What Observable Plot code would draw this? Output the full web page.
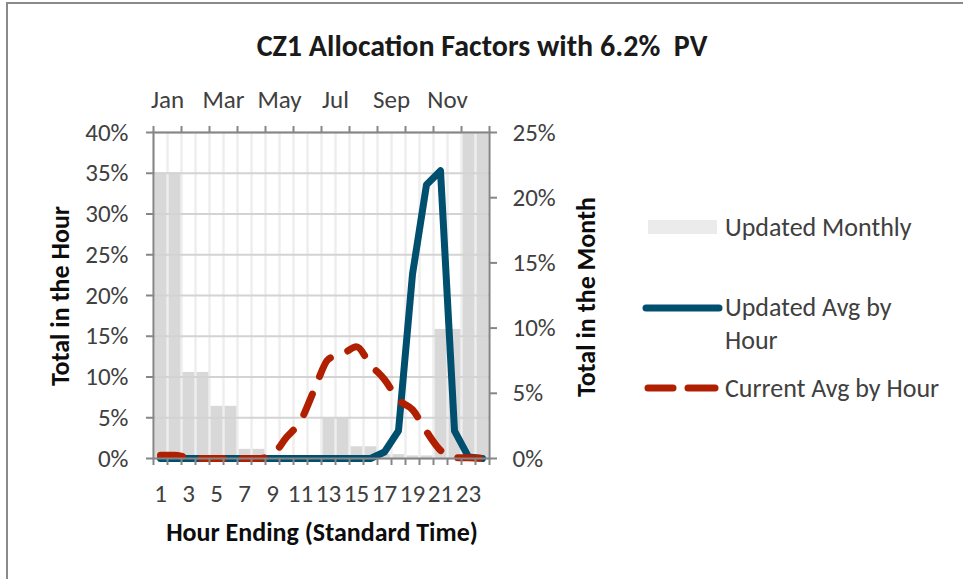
<!DOCTYPE html>
<html><head><meta charset="utf-8">
<script src="https://cdn.jsdelivr.net/npm/d3@7"></script>
<script src="https://cdn.jsdelivr.net/npm/@observablehq/plot@0.6"></script>
<style>
body{margin:0;background:#fff;}
#wrap{position:relative;width:963px;height:579px;overflow:hidden;font-family:Carlito,Calibri,Lato,sans-serif;color:#404040;}
#border{position:absolute;left:6px;top:2px;width:980px;height:600px;border-left:2px solid #8a8a8a;border-top:2px solid #8a8a8a;}
#chart{position:absolute;left:0;top:0;}
.abs{position:absolute;white-space:nowrap;}
.title{left:482px;top:45px;transform:translate(-50%,-50%);font-weight:bold;font-size:30px;color:#1a1a1a;}
.ytitle{font-weight:bold;font-size:26px;color:#0d0d0d;transform:translate(-50%,-50%) rotate(-90deg);}
.xtitle{left:322px;top:532px;transform:translate(-50%,-50%);font-weight:bold;font-size:26px;color:#0d0d0d;}
.leg{font-size:26px;transform:translateY(-50%);left:725px;}
</style></head><body>
<div id="wrap">
  <div id="border"></div>
  <div id="chart"></div>
  <div class="abs title">CZ1 Allocation Factors with 6.2%&nbsp; PV</div>
  <div class="abs ytitle" style="left:60px;top:296px;">Total in the Hour</div>
  <div class="abs ytitle" style="left:586px;top:297px;">Total in the Month</div>
  <div class="abs xtitle">Hour Ending (Standard Time)</div>
  <div class="abs" style="left:648px;top:220px;width:69px;height:14px;background:#ebebeb;"></div>
  <div class="abs leg" style="top:227px;">Updated Monthly</div>
  <svg class="abs" style="left:640px;top:298px;" width="85" height="20"><line x1="6" y1="10" x2="79" y2="10" stroke="#004f6e" stroke-width="7" stroke-linecap="round"/></svg>
  <div class="abs leg" style="top:307px;">Updated Avg by</div>
  <div class="abs leg" style="top:340px;">Hour</div>
  <svg class="abs" style="left:640px;top:378px;" width="85" height="20"><line x1="8" y1="10" x2="33" y2="10" stroke="#b02000" stroke-width="7" stroke-linecap="round"/><line x1="48" y1="10" x2="75" y2="10" stroke="#b02000" stroke-width="7" stroke-linecap="round"/></svg>
  <div class="abs leg" style="top:388px;">Current Avg by Hour</div>
</div>
<script>
// Monthly totals (right axis, % of year)
const months = ["Jan","Feb","Mar","Apr","May","Jun","Jul","Aug","Sep","Oct","Nov","Dec"];
const monthlyShare = [21.9, 6.6, 4.0, 0.7, 0.2, 0.1, 3.1, 0.9, 0.3, 0.2, 9.9, 52.1];
const monthLabels = ["Jan","Mar","May","Jul","Sep","Nov"];
// Hourly values (left axis, % of day)
const hours = [1,2,3,4,5,6,7,8,9,10,11,12,13,14,15,16,17,18,19,20,21,22,23,24];
const updatedAvg = [0,0,0,0,0,0,0,0,0,0,0,0,0,0,0,0,0.8,3.4,22.6,33.6,35.3,3.4,0.2,0];
const currentAvg = [0.4,0.4,0.1,0,0,0,0,0,0.5,2.6,4.6,8.5,12.2,12.8,13.7,11.5,9.7,7.2,6.0,3.3,1.0,0.1,0.1,0];
const hourLabels = [1,3,5,7,9,11,13,15,17,19,21,23];
const leftTicks = [0,5,10,15,20,25,30,35,40];
const rightTicks = [0,5,10,15,20,25];

const leftMax = 40, rightMax = 25, k = leftMax / rightMax;
const monthRows = months.map((m, i) => ({month: m, x1: 2*i + 0.5, x2: 2*i + 2.5, v: monthlyShare[i] * k}));
const hourRows = hours.map((h, i) => ({hour: h, updated: updatedAvg[i], current: currentAvg[i]}));
const hourEdges = hours.map(h => h - 0.5).concat([hours[hours.length-1] + 0.5]);
const monthEdges = monthRows.map(d => d.x1).concat([monthRows[monthRows.length-1].x2]);
const monthCenters = monthLabels.map(m => { const r = monthRows.find(d => d.month === m); return (r.x1 + r.x2) / 2; });

const axisColor = "#868686";
const fs = 25;
const chart = Plot.plot({
  width: 963, height: 579,
  marginLeft: 153, marginRight: 474, marginTop: 132, marginBottom: 121,
  x: {domain: [0.5, 24.5], label: null},
  y: {domain: [0, leftMax], label: null},
  style: {fontFamily: "Carlito, Calibri, Lato, sans-serif", fontSize: fs + "px", color: "#404040", background: "transparent", overflow: "visible"},
  marks: [
    Plot.rectY(monthRows, {x1: "x1", x2: "x2", y1: 0, y2: "v", fill: "#d8d8d8", clip: true}),
    Plot.gridX({ticks: hourEdges, stroke: "#eeeeee", strokeOpacity: 1, strokeWidth: 2.5}),
    Plot.gridY({ticks: leftTicks, stroke: "#d3d3d3", strokeOpacity: 1, strokeWidth: 2}),
    Plot.line(hourRows, {x: "hour", y: "updated", stroke: "#004f6e", strokeWidth: 7, curve: "linear", strokeLinejoin: "round", strokeLinecap: "round"}),
    Plot.line(hourRows, {x: "hour", y: "current", stroke: "#b02000", strokeWidth: 7, curve: "monotone-x", strokeDasharray: "22 19", strokeLinecap: "round", strokeLinejoin: "round"}),
    Plot.frame({stroke: axisColor, strokeWidth: 2}),
    Plot.axisY({anchor: "left", ticks: leftTicks, tickFormat: d => d + "%", tickSize: 7, tickPadding: 18, stroke: axisColor, strokeWidth: 2, fontSize: fs, label: null}),
    Plot.axisY({anchor: "right", ticks: rightTicks.map(v => v * k), tickFormat: d => Math.round(d / k) + "%", tickSize: 7, tickPadding: 16, stroke: axisColor, strokeWidth: 2, fontSize: fs, label: null}),
    Plot.axisX({anchor: "bottom", ticks: hourEdges, tickFormat: () => "", tickSize: 7, stroke: axisColor, strokeWidth: 2, label: null}),
    Plot.axisX({anchor: "bottom", ticks: hourLabels, tickFormat: d => String(d), tickSize: 0, tickPadding: 26, fontSize: fs, label: null}),
    Plot.axisX({anchor: "top", ticks: monthEdges, tickFormat: () => "", tickSize: 7, stroke: axisColor, strokeWidth: 2, label: null}),
    Plot.axisX({anchor: "top", ticks: monthCenters, tickFormat: d => monthLabels[monthCenters.indexOf(d)], tickSize: 0, tickPadding: 25, fontSize: fs, label: null})
  ]
});
document.getElementById("chart").appendChild(chart);
</script>
</body></html>
